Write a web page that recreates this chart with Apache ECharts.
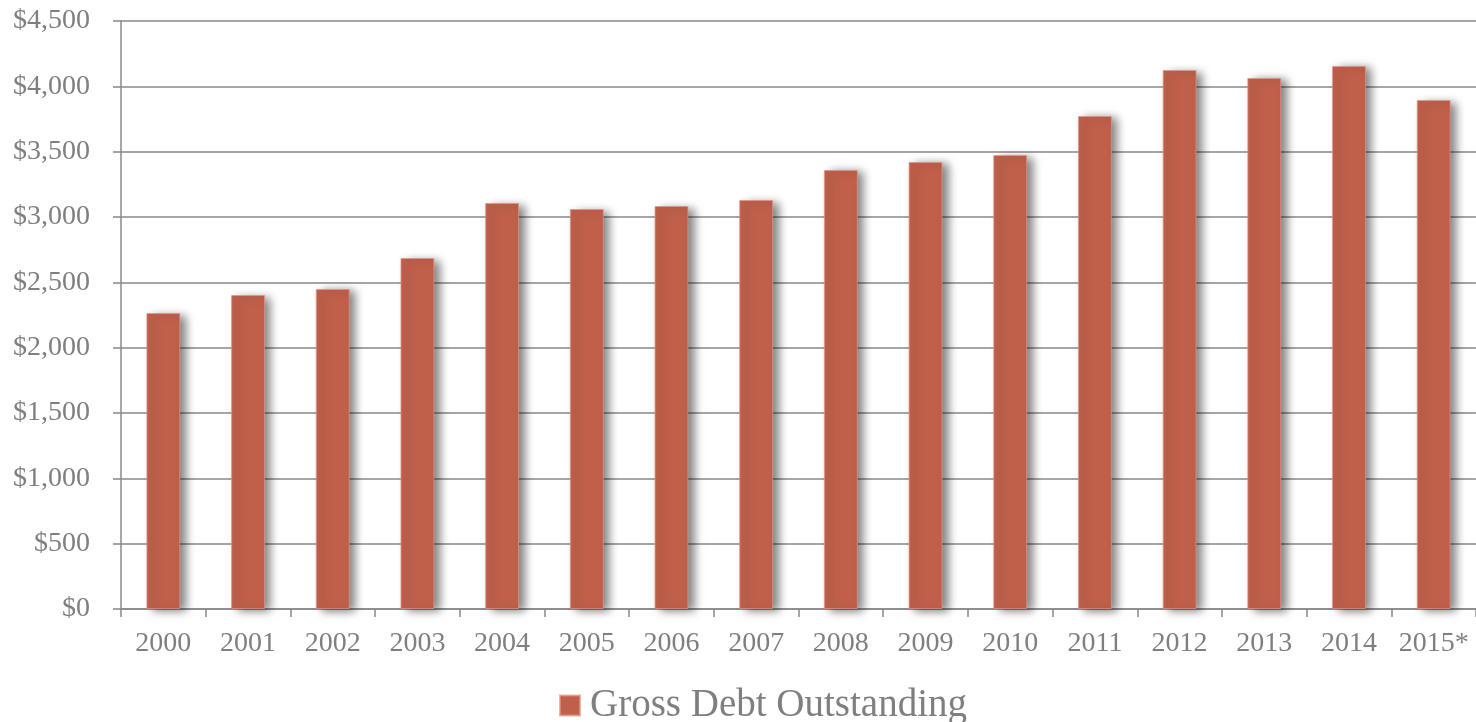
<!DOCTYPE html>
<html>
<head>
<meta charset="utf-8">
<script src="https://cdn.jsdelivr.net/npm/echarts@6/dist/echarts.min.js"></script>
<style>
   html, body { margin: 0; padding: 0; background: #fff; }
   #chart { width: 1476px; height: 722px; }
</style>
</head>
<body>
<div id="chart"></div>
<script>
const years = ['2000', '2001', '2002', '2003', '2004', '2005', '2006', '2007',
   '2008', '2009', '2010', '2011', '2012', '2013', '2014', '2015*'];
const grossDebt = [2265, 2403, 2449, 2686, 3107, 3061, 3084, 3130,
   3360, 3421, 3474, 3773, 4125, 4064, 4156, 3895];
const seriesName = 'Gross Debt Outstanding';

const gray = '#888888';
const textGray = '#7f7f7f';
const font = '"Liberation Serif", "DejaVu Serif", serif';

const chart = echarts.init(document.getElementById('chart'));
const option = {
   animation: false,
   grid: {
      left: 121,
      right: -10,
      top: 21,
      bottom: 113
   },
   legend: {
      left: 559,
      top: 686,
      padding: 0,
      icon: 'rect',
      itemWidth: 20,
      itemHeight: 20,
      itemGap: 10,
      textStyle: {
         color: textGray,
         fontFamily: font,
         fontSize: 39,
         padding: [0, 0, 0, 5]
      },
      data: [seriesName]
   },
   xAxis: {
      type: 'category',
      data: years,
      axisLine: { lineStyle: { color: gray, width: 1.5 } },
      axisTick: { show: true, length: 8, lineStyle: { color: gray, width: 1.5 } },
      axisLabel: {
         interval: 0,
         color: textGray,
         fontFamily: font,
         fontSize: 28,
         margin: 21
      }
   },
   yAxis: {
      type: 'value',
      min: 0,
      max: 4500,
      interval: 500,
      axisLine: { show: true, lineStyle: { color: gray, width: 1.5 } },
      axisTick: { show: true, length: 8, lineStyle: { color: gray, width: 1.5 } },
      splitLine: { lineStyle: { color: gray, width: 1.5 } },
      axisLabel: {
         color: textGray,
         fontFamily: font,
         fontSize: 28,
         margin: 31,
         formatter: (v) => '$' + v.toLocaleString('en-US')
      }
   },
   series: [
      {
         name: seriesName,
         type: 'bar',
         data: grossDebt,
         barWidth: '40%',
         itemStyle: {
            color: '#c0604b',
            borderColor: 'rgba(225,150,135,0.7)',
            borderWidth: 1,
            shadowColor: 'rgba(0,0,0,0.5)',
            shadowBlur: 9,
            shadowOffsetX: 6,
            shadowOffsetY: 2
         }
      }
   ]
};
chart.setOption(option);
</script>
</body>
</html>
